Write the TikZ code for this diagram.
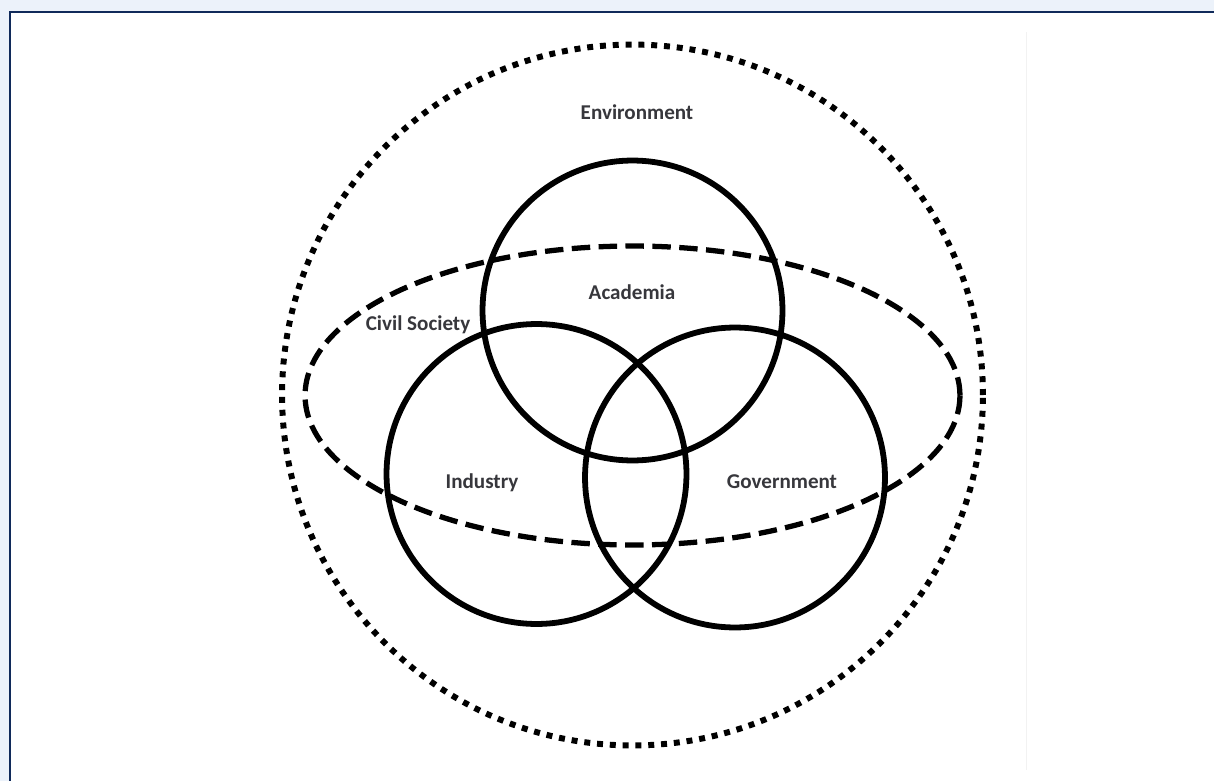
\documentclass[tikz,border=0pt]{standalone}
\usepackage{fontspec}
\setmainfont{Carlito}
\usetikzlibrary{shapes.geometric}
\definecolor{pageblue}{RGB}{236,242,250}
\definecolor{framenavy}{RGB}{16,42,90}
\definecolor{labelgray}{RGB}{55,55,60}
\tikzset{
  setcircle/.style={circle, draw, line width=3.3pt, minimum size=6cm, inner sep=0pt},
  setlabel/.style={text=labelgray, font=\fontsize{12}{14}\selectfont\bfseries},
}
\begin{document}
\begin{tikzpicture}[x=0.02cm, y=-0.02cm]
    \useasboundingbox (0, 0) rectangle (1214, 781);
    \fill[pageblue] (0, 0) rectangle (1214, 781);
    \fill[white] (10, 12) rectangle (1214, 781);
    \draw[framenavy, line width=1.7pt] (10, 781) -- (10, 12) -- (1214, 12);
    \draw[gray!10, line width=0.4pt] (1026, 32) -- (1026, 770);

    % Outer ring (environment) and civil society band
    \node[circle, draw, line width=3.4pt, dash pattern=on 3.4pt off 3.9pt,
          minimum size=14.02cm, inner sep=0pt] (env) at (632.5, 395) {};
    \node[ellipse, draw, line width=3pt, dash pattern=on 10.5pt off 4.8pt,
          minimum width=13.1cm, minimum height=5.98cm, inner sep=0pt] (civil) at (632.5, 395.5) {};

    % The three helices
    \node[setcircle] (academia) at (632.5, 310.5) {};
    \node[setcircle] (industry) at (536.5, 474) {};
    \node[setcircle] (government) at (735, 477.5) {};

    % Labels
    \node[setlabel] (envtext) at (637, 112) {Environment};
    \node[setlabel] (acadtext) at (632, 292) {Academia};
    \node[setlabel] (civtext) at (418, 325) {Civil Society};
    \node[setlabel] (indtext) at (482, 483) {Industry};
    \node[setlabel] (govtext) at (782, 482) {Government};
\end{tikzpicture}
\end{document}
